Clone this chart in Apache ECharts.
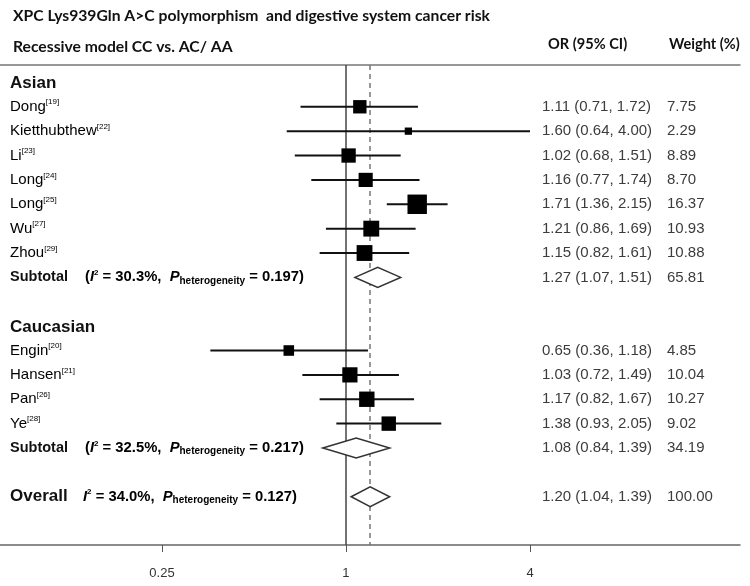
<!DOCTYPE html>
<html>
<head>
<meta charset="utf-8">
<script src="https://cdn.jsdelivr.net/npm/echarts@6/dist/echarts.min.js"></script>
<style>
  html, body { margin: 0; padding: 0; background: #fff; }
  #chart { width: 750px; height: 586px; }
</style>
</head>
<body>
<div id="chart"></div>
<script>
// ---- data ----
const groupNames = ['Asian', 'Caucasian']
const groupRows = [0, 10]

const studyNames = ['Dong', 'Kietthubthew', 'Li', 'Long', 'Long', 'Wu', 'Zhou', 'Engin', 'Hansen', 'Pan', 'Ye']
const studyRefs = ['19', '22', '23', '24', '25', '27', '29', '20', '21', '26', '28']
const studyRows = [1, 2, 3, 4, 5, 6, 7, 11, 12, 13, 14]
const studyOr = [1.11, 1.60, 1.02, 1.16, 1.71, 1.21, 1.15, 0.65, 1.03, 1.17, 1.38]
const studyLower = [0.71, 0.64, 0.68, 0.77, 1.36, 0.86, 0.82, 0.36, 0.72, 0.82, 0.93]
const studyUpper = [1.72, 4.00, 1.51, 1.74, 2.15, 1.69, 1.61, 1.18, 1.49, 1.67, 2.05]
const studyWeight = [7.75, 2.29, 8.89, 8.70, 16.37, 10.93, 10.88, 4.85, 10.04, 10.27, 9.02]

const pooledNames = ['Subtotal', 'Subtotal', 'Overall']
const pooledRows = [8, 15, 17]
const pooledI2 = ['30.3', '32.5', '34.0']
const pooledP = ['0.197', '0.217', '0.127']
const pooledOpen = ['(', '(', '']
const pooledOr = [1.27, 1.08, 1.20]
const pooledLower = [1.07, 0.84, 1.04]
const pooledUpper = [1.51, 1.39, 1.39]
const pooledWeight = [65.81, 34.19, 100.00]

const xTicks = [0.25, 1, 4]

const overallOr = pooledOr[2]
const SANS = '"Liberation Sans", Arial, sans-serif'

function orText(o, l, u) {
  return o.toFixed(2) + ' (' + l.toFixed(2) + ', ' + u.toFixed(2) + ')'
}

function colText(x, y, text) {
  return {
    type: 'text',
    style: {
      x: x, y: y, text: text,
      fill: '#3c3c3c',
      font: '15px ' + SANS,
      verticalAlign: 'middle'
    }
  }
}

const chart = echarts.init(document.getElementById('chart'))

const headStyle = { fontFamily: 'Lato', fontWeight: 'bold', fontSize: 15.7, color: '#111' }
const colHeadStyle = { fontFamily: 'Lato', fontWeight: 'bold', fontSize: 14.6, color: '#111' }

const option = {
  animation: false,
  backgroundColor: '#fff',
  title: [
    { text: 'XPC Lys939Gln A>C polymorphism  and digestive system cancer risk', left: 8, top: 3, textStyle: headStyle },
    { text: 'Recessive model CC vs. AC/ AA', left: 8, top: 34, textStyle: headStyle },
    { text: 'OR (95% CI)', left: 543, top: 32, textStyle: colHeadStyle },
    { text: 'Weight (%)', left: 664, top: 32, textStyle: colHeadStyle }
  ],
  grid: { left: 0, right: 10, top: 65, bottom: 41 },
  xAxis: [
    {
      type: 'log',
      logBase: 2,
      min: 0.0738,
      max: 19.46,
      splitLine: { show: false },
      axisLine: { show: true, onZero: false, lineStyle: { color: '#666', width: 1.5 } },
      axisTick: { show: true, customValues: xTicks, length: 7, lineStyle: { color: '#555', width: 1 } },
      axisLabel: {
        customValues: xTicks,
        margin: 22,
        color: '#333',
        fontFamily: SANS,
        fontSize: 13,
        formatter: v => String(v)
      }
    },
    {
      type: 'log',
      logBase: 2,
      position: 'top',
      min: 0.0738,
      max: 19.46,
      splitLine: { show: false },
      axisLine: { show: true, onZero: false, lineStyle: { color: '#777', width: 1.5 } },
      axisTick: { show: false },
      axisLabel: { show: false }
    }
  ],
  yAxis: {
    type: 'value',
    inverse: true,
    min: -0.714,
    max: 18.98,
    show: false
  },
  series: [
    {
      // group headers
      type: 'custom',
      data: groupRows.map((r, i) => [1, r, i]),
      encode: { x: 0, y: 1 },
      renderItem(params, api) {
        const i = params.dataIndex
        const y = api.coord([1, groupRows[i]])[1]
        return {
          type: 'text',
          style: {
            x: 10, y: y + 1, text: groupNames[i],
            fill: '#111',
            font: 'bold 17px ' + SANS,
            verticalAlign: 'middle'
          }
        }
      }
    },
    {
      // individual studies: CI line + weighted square + text columns
      type: 'custom',
      z: 5,
      data: studyRows.map((r, i) => [studyOr[i], r]),
      encode: { x: 0, y: 1 },
      renderItem(params, api) {
        const i = params.dataIndex
        const c = api.coord([studyOr[i], studyRows[i]])
        const lo = api.coord([studyLower[i], studyRows[i]])
        const hi = api.coord([studyUpper[i], studyRows[i]])
        const s = 4.8 * Math.sqrt(studyWeight[i])
        return {
          type: 'group',
          children: [
            {
              type: 'line',
              shape: { x1: lo[0], y1: c[1], x2: hi[0], y2: c[1] },
              style: { stroke: '#111', lineWidth: 2 }
            },
            {
              type: 'rect',
              shape: { x: c[0] - s / 2, y: c[1] - s / 2, width: s, height: s },
              style: { fill: '#000' }
            },
            {
              type: 'text',
              style: {
                x: 10, y: c[1],
                text: '{n|' + studyNames[i] + '}{s|[' + studyRefs[i] + ']}',
                verticalAlign: 'middle',
                rich: {
                  n: { fontSize: 15, fontFamily: SANS, color: '#3c3c3c' },
                  s: { fontSize: 8, fontFamily: SANS, color: '#3c3c3c', padding: [0, 0, 9, 0] }
                }
              }
            },
            colText(542, c[1], orText(studyOr[i], studyLower[i], studyUpper[i])),
            colText(667, c[1], studyWeight[i].toFixed(2))
          ]
        }
      },
      markLine: {
        silent: true,
        symbol: 'none',
        label: { show: false },
        data: [
          { xAxis: 1, lineStyle: { color: '#444', width: 1.5, type: 'solid' } },
          { xAxis: overallOr, lineStyle: { color: '#777', width: 1.5, type: [5, 4] } }
        ]
      }
    },
    {
      // pooled estimates: diamonds + text
      type: 'custom',
      z: 5,
      data: pooledRows.map((r, i) => [pooledOr[i], r]),
      encode: { x: 0, y: 1 },
      renderItem(params, api) {
        const i = params.dataIndex
        const c = api.coord([pooledOr[i], pooledRows[i]])
        const lo = api.coord([pooledLower[i], pooledRows[i]])
        const hi = api.coord([pooledUpper[i], pooledRows[i]])
        const h = 10
        const isOverall = pooledNames[i] === 'Overall'
        return {
          type: 'group',
          children: [
            {
              type: 'polygon',
              shape: { points: [[lo[0], c[1]], [c[0], c[1] - h], [hi[0], c[1]], [c[0], c[1] + h]] },
              style: { fill: '#fff', stroke: '#333', lineWidth: 1.5 }
            },
            {
              type: 'text',
              style: {
                x: 10, y: c[1], text: pooledNames[i],
                fill: '#111',
                font: 'bold ' + (isOverall ? 17 : 14.5) + 'px ' + SANS,
                verticalAlign: 'middle'
              }
            },
            {
              type: 'text',
              style: {
                x: isOverall ? 83 : 85, y: c[1],
                text: '{t|' + pooledOpen[i] + '}{i|I}{sup|2}{t| = ' + pooledI2[i] + '%,  }{i|P}{sub|heterogeneity}{t| = ' + pooledP[i] + ')}',
                verticalAlign: 'middle',
                rich: {
                  t: { fontSize: 14.8, fontWeight: 'bold', fontFamily: SANS, color: '#111' },
                  i: { fontSize: 14.8, fontWeight: 'bold', fontStyle: 'italic', fontFamily: SANS, color: '#111' },
                  sup: { fontSize: 8, fontWeight: 'bold', fontFamily: SANS, color: '#111', padding: [0, 0, 9, 0] },
                  sub: { fontSize: 10, fontWeight: 'bold', fontFamily: SANS, color: '#111', padding: [7, 0, 0, 0] }
                }
              }
            },
            colText(542, c[1], orText(pooledOr[i], pooledLower[i], pooledUpper[i])),
            colText(667, c[1], pooledWeight[i].toFixed(2))
          ]
        }
      }
    }
  ]
}

chart.setOption(option)
</script>
</body>
</html>
